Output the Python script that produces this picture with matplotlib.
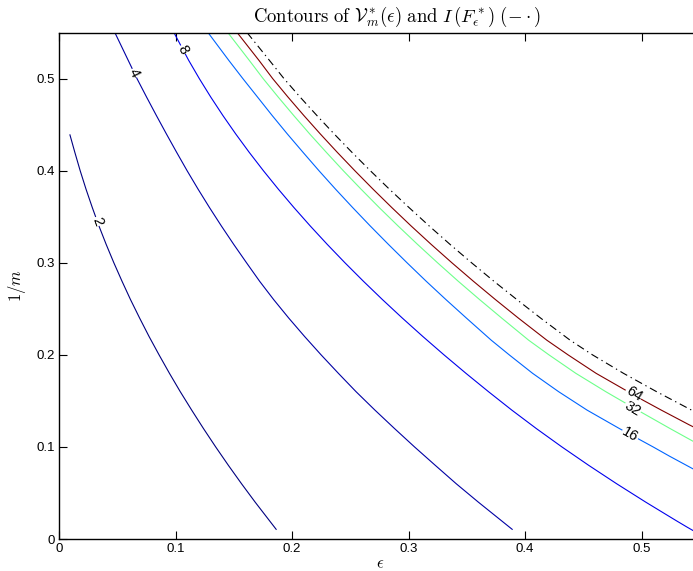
import numpy as np
import matplotlib
matplotlib.use('Agg')
import matplotlib.pyplot as plt
from matplotlib import cm, colors

plt.rcParams['font.family'] = ['Liberation Sans', 'DejaVu Sans']
plt.rcParams['mathtext.fontset'] = 'cm'

# contour levels and curves (epsilon, 1/m)
levels = [2, 4, 8, 16, 32, 64]

eps_2 = [0.0094, 0.0136, 0.0182, 0.0232, 0.0286, 0.0343, 0.0405, 0.0471, 0.0541, 0.0614,
         0.0692, 0.0773, 0.0859, 0.0948, 0.1041, 0.1139, 0.124, 0.1345, 0.1454, 0.1567,
         0.1684, 0.1864]
inv_2 = [0.439, 0.42, 0.40, 0.38, 0.36, 0.34, 0.32, 0.30, 0.28, 0.26,
         0.24, 0.22, 0.20, 0.18, 0.16, 0.14, 0.12, 0.10, 0.08, 0.06,
         0.04, 0.0105]

eps_4 = [0.048, 0.0594, 0.067, 0.0752, 0.0836, 0.0922, 0.101, 0.110, 0.1194, 0.1292,
         0.1394, 0.150, 0.161, 0.1722, 0.1843, 0.1972, 0.2108, 0.225, 0.2398, 0.255,
         0.2712, 0.288, 0.3052, 0.323, 0.341, 0.360, 0.389]
inv_4 = [0.55, 0.52, 0.50, 0.48, 0.46, 0.44, 0.42, 0.40, 0.38, 0.36,
         0.34, 0.32, 0.30, 0.28, 0.26, 0.24, 0.22, 0.20, 0.18, 0.16,
         0.14, 0.12, 0.10, 0.08, 0.06, 0.04, 0.0105]

eps_8 = [0.0987, 0.1113, 0.1205, 0.1303, 0.1407, 0.1517, 0.1633, 0.1755, 0.1883, 0.2017,
         0.2157, 0.2303, 0.2455, 0.2613, 0.2777, 0.2947, 0.3123, 0.3305, 0.3493, 0.3687,
         0.3887, 0.4097, 0.4317, 0.4547, 0.4787, 0.5037, 0.5297, 0.539, 0.5445]
inv_8 = [0.55, 0.52, 0.50, 0.48, 0.46, 0.44, 0.42, 0.40, 0.38, 0.36,
         0.34, 0.32, 0.30, 0.28, 0.26, 0.24, 0.22, 0.20, 0.18, 0.16,
         0.14, 0.12, 0.10, 0.08, 0.06, 0.04, 0.02, 0.013, 0.009]

eps_16 = [0.128, 0.1457, 0.1579, 0.1726, 0.183, 0.196, 0.2095, 0.2232, 0.2374, 0.2521,
          0.2672, 0.2828, 0.2988, 0.3152, 0.3322, 0.3497, 0.371, 0.3865, 0.4065, 0.4289,
          0.4533, 0.481, 0.510, 0.524, 0.5445]
inv_16 = [0.55, 0.52, 0.50, 0.4766, 0.46, 0.44, 0.42, 0.40, 0.38, 0.36,
          0.34, 0.32, 0.30, 0.28, 0.26, 0.24, 0.216, 0.20, 0.18, 0.16,
          0.14, 0.12, 0.10, 0.09, 0.076]

eps_32 = [0.145, 0.1633, 0.1753, 0.1882, 0.2015, 0.2152, 0.2295, 0.2441, 0.2593, 0.2749,
          0.2911, 0.3078, 0.325, 0.3427, 0.3611, 0.380, 0.4031, 0.4206, 0.4436, 0.4694,
          0.4966, 0.5245, 0.5445]
inv_32 = [0.55, 0.52, 0.50, 0.48, 0.46, 0.44, 0.42, 0.40, 0.38, 0.36,
          0.34, 0.32, 0.30, 0.28, 0.26, 0.24, 0.216, 0.20, 0.18, 0.16,
          0.14, 0.12, 0.106]

eps_64 = [0.153, 0.1716, 0.1835, 0.1966, 0.2102, 0.2243, 0.2389, 0.254, 0.2696, 0.2857,
          0.3023, 0.3195, 0.3373, 0.3557, 0.3747, 0.3943, 0.4187, 0.437, 0.461, 0.481,
          0.501, 0.517, 0.541, 0.5445]
inv_64 = [0.55, 0.52, 0.50, 0.48, 0.46, 0.44, 0.42, 0.40, 0.38, 0.36,
          0.34, 0.32, 0.30, 0.28, 0.26, 0.24, 0.216, 0.20, 0.18, 0.1655,
          0.151, 0.14, 0.124, 0.1218]

# I(F*_eps), dash-dot
eps_I = [0.1615, 0.1806, 0.1932, 0.207, 0.2214, 0.2362, 0.2515, 0.2673, 0.2836, 0.3005,
         0.3178, 0.3357, 0.3542, 0.3733, 0.3931, 0.4134, 0.4387, 0.458, 0.4845, 0.513,
         0.543, 0.5445]
inv_I = [0.55, 0.52, 0.50, 0.48, 0.46, 0.44, 0.42, 0.40, 0.38, 0.36,
         0.34, 0.32, 0.30, 0.28, 0.26, 0.24, 0.216, 0.20, 0.18, 0.16,
         0.14, 0.139]

curves = [(eps_2, inv_2), (eps_4, inv_4), (eps_8, inv_8),
          (eps_16, inv_16), (eps_32, inv_32), (eps_64, inv_64)]

# label positions (epsilon, 1/m, rotation)
label_pos = [(0.033, 0.345, -70), (0.0645, 0.506, -64), (0.1064, 0.5315, -62),
             (0.490, 0.113, -30), (0.4924, 0.142, -31), (0.4936, 0.158, -32)]

tick_vals = [0, 0.1, 0.2, 0.3, 0.4, 0.5]
tick_text = ['0', '0.1', '0.2', '0.3', '0.4', '0.5']

fig = plt.figure(figsize=(6.93, 5.71), dpi=100)
# the axes run on past the right edge of the picture (x up to 0.6)
ax = fig.add_axes([59 / 693, 32 / 571, 0.6 * 1165 / 693, 506.3 / 571])

norm = colors.Normalize(vmin=2, vmax=64)
for lev, (xs, ys), (lx, ly, rot) in zip(levels, curves, label_pos):
    c = cm.jet(norm(lev))
    ax.plot(xs, ys, color=c, lw=0.8, zorder=2)
    ax.text(lx, ly, str(lev), rotation=rot, fontsize=10.5, ha='center', va='center',
            rotation_mode='anchor', zorder=3,
            bbox=dict(boxstyle='square,pad=0.05', fc='white', ec='none'))

ax.plot(eps_I, inv_I, color='black', lw=0.8, dashes=(7, 3.5, 1.2, 3.5), zorder=2)

ax.set_xlim(0, 0.6)
ax.set_ylim(0, 0.55)
ax.set_xticks(tick_vals)
ax.set_xticklabels(tick_text)
ax.set_yticks(tick_vals)
ax.set_yticklabels(tick_text)
ax.tick_params(direction='in', length=6, width=0.8, labelsize=9.5, top=True, right=False, pad=3)
for s in ax.spines.values():
    s.set_linewidth(1.0)

ax.set_xlabel(r'$\epsilon$', fontsize=12)
ax.xaxis.set_label_coords((380 - 59) / (0.6 * 1165), -0.035)
ax.set_ylabel(r'$1/m$', fontsize=12, labelpad=6)
ax.set_title(r'$\mathrm{Contours\ of\ }\mathcal{V}_m^*(\epsilon)\mathrm{\ and\ }I\,(F_\epsilon^*)\ (-\cdot)$',
             fontsize=13.5, pad=8, x=(397 - 59) / (0.6 * 1165))

fig.savefig('out.png', dpi=100)
